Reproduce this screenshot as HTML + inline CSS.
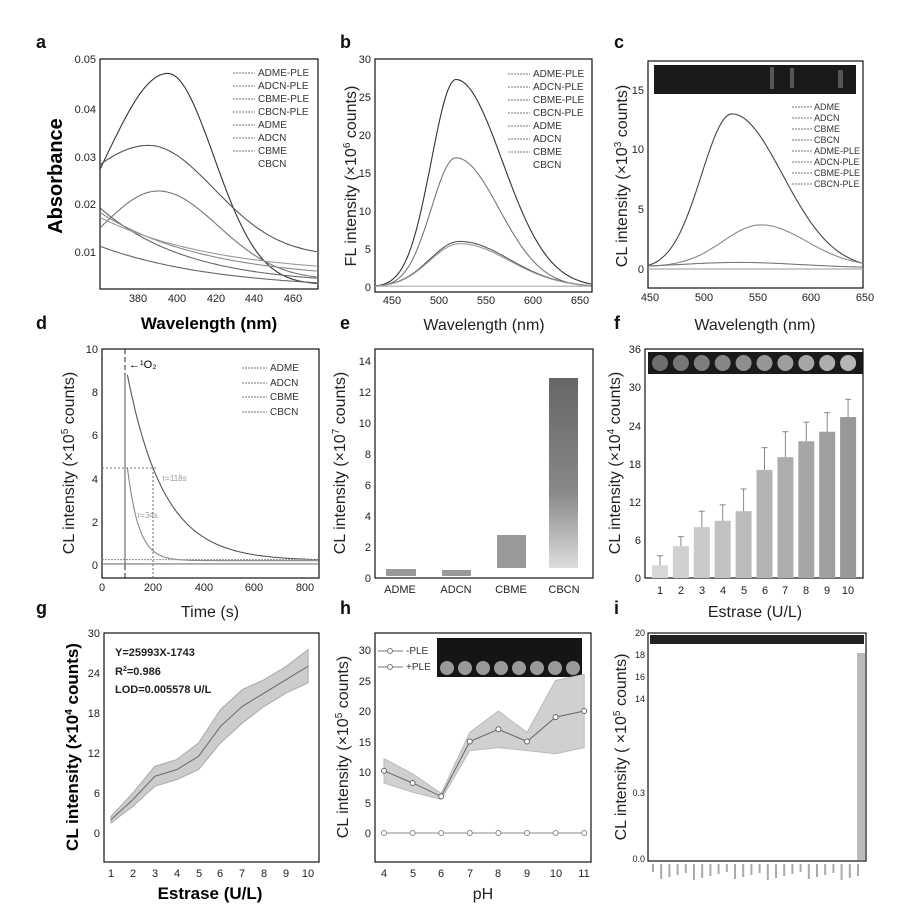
<!DOCTYPE html>
<html><head><meta charset="utf-8"><style>
html,body{margin:0;padding:0;background:#fff}
svg{display:block;font-family:"Liberation Sans",sans-serif}
.t{font-size:11px;fill:#222}
.lg{font-size:10px;fill:#333}
.ax{font-size:16px;fill:#222}
.pl{font-size:18px;font-weight:bold;fill:#111}
.fr{fill:none;stroke:#111;stroke-width:1.2}
.c{fill:none;stroke:#444;stroke-width:1.1}
</style></head><body>
<svg id="s" width="911" height="922" viewBox="0 0 911 922" xmlns="http://www.w3.org/2000/svg">
<defs>
<linearGradient id="gE" x1="0" y1="0" x2="0" y2="1"><stop offset="0" stop-color="#666"/><stop offset="0.6" stop-color="#888"/><stop offset="1" stop-color="#ddd"/></linearGradient>
</defs>
<text class="pl" x="36" y="48">a</text><text class="pl" x="340" y="48">b</text><text class="pl" x="614" y="48">c</text>
<text class="pl" x="36" y="329">d</text><text class="pl" x="340" y="329">e</text><text class="pl" x="614" y="329">f</text>
<text class="pl" x="36" y="614">g</text><text class="pl" x="340" y="614">h</text><text class="pl" x="614" y="614">i</text>

<rect class="fr" x="100" y="59" width="218" height="230"/>
<g class="t" text-anchor="end">
<text x="96" y="63">0.05</text><text x="96" y="113">0.04</text><text x="96" y="161">0.03</text><text x="96" y="208">0.02</text><text x="96" y="256">0.01</text></g>
<g class="t" text-anchor="middle">
<text x="138" y="302">380</text><text x="177" y="302">400</text><text x="216" y="302">420</text><text x="254" y="302">440</text><text x="293" y="302">460</text></g>
<text x="209" y="329" text-anchor="middle" style="font-size:17px;font-weight:bold">Wavelength (nm)</text>
<text transform="translate(62,176) rotate(-90)" text-anchor="middle" style="font-size:20px;font-weight:bold">Absorbance</text>
<g class="lg"><text x="258" y="76">ADME-PLE</text><text x="258" y="89">ADCN-PLE</text><text x="258" y="102">CBME-PLE</text><text x="258" y="115">CBCN-PLE</text><text x="258" y="128">ADME</text><text x="258" y="141">ADCN</text><text x="258" y="154">CBME</text><text x="258" y="167">CBCN</text></g>
<g stroke="#777" stroke-dasharray="2,1"><line x1="233" y1="73" x2="255" y2="73"/><line x1="233" y1="86" x2="255" y2="86"/><line x1="233" y1="99" x2="255" y2="99"/><line x1="233" y1="112" x2="255" y2="112"/><line x1="233" y1="125" x2="255" y2="125"/><line x1="233" y1="138" x2="255" y2="138"/><line x1="233" y1="151" x2="255" y2="151"/></g>
<g id="ga"></g>

<rect class="fr" x="375" y="59" width="217" height="233"/>
<g class="t" text-anchor="end"><text x="371" y="63">30</text><text x="371" y="101">25</text><text x="371" y="139">20</text><text x="371" y="177">15</text><text x="371" y="215">10</text><text x="371" y="253">5</text><text x="371" y="291">0</text></g>
<g class="t" text-anchor="middle"><text x="392" y="304">450</text><text x="439" y="304">500</text><text x="486" y="304">550</text><text x="533" y="304">600</text><text x="580" y="304">650</text></g>
<text class="ax" x="484" y="330" text-anchor="middle">Wavelength (nm)</text>
<text class="ax" transform="translate(356,176) rotate(-90)" text-anchor="middle">FL intensity (×10<tspan dy="-6" font-size="10">6</tspan><tspan dy="6"> counts)</tspan></text>
<g class="lg"><text x="533" y="77">ADME-PLE</text><text x="533" y="90">ADCN-PLE</text><text x="533" y="103">CBME-PLE</text><text x="533" y="116">CBCN-PLE</text><text x="533" y="129">ADME</text><text x="533" y="142">ADCN</text><text x="533" y="155">CBME</text><text x="533" y="168">CBCN</text></g>
<g stroke="#777" stroke-dasharray="2,1"><line x1="508" y1="74" x2="530" y2="74"/><line x1="508" y1="87" x2="530" y2="87"/><line x1="508" y1="100" x2="530" y2="100"/><line x1="508" y1="113" x2="530" y2="113"/><line x1="508" y1="126" x2="530" y2="126"/><line x1="508" y1="139" x2="530" y2="139"/><line x1="508" y1="152" x2="530" y2="152"/></g>
<g id="gb"></g>

<rect class="fr" x="648" y="61" width="215" height="227"/>
<rect x="654" y="65" width="202" height="29" fill="#1a1a1a"/>
<g fill="#555"><rect x="770" y="67" width="4" height="22"/><rect x="790" y="68" width="4" height="20"/><rect x="838" y="70" width="5" height="18"/></g>
<g class="t" text-anchor="end"><text x="644" y="94">15</text><text x="644" y="153">10</text><text x="644" y="213">5</text><text x="644" y="273">0</text></g>
<g class="t" text-anchor="middle"><text x="650" y="301">450</text><text x="704" y="301">500</text><text x="758" y="301">550</text><text x="811" y="301">600</text><text x="865" y="301">650</text></g>
<text class="ax" x="755" y="330" text-anchor="middle">Wavelength (nm)</text>
<text class="ax" transform="translate(627,176) rotate(-90)" text-anchor="middle">CL intensity (×10<tspan dy="-6" font-size="10">3</tspan><tspan dy="6"> counts)</tspan></text>
<g class="lg" style="font-size:9px"><text x="814" y="110">ADME</text><text x="814" y="121">ADCN</text><text x="814" y="132">CBME</text><text x="814" y="143">CBCN</text><text x="814" y="154">ADME-PLE</text><text x="814" y="165">ADCN-PLE</text><text x="814" y="176">CBME-PLE</text><text x="814" y="187">CBCN-PLE</text></g>
<g stroke="#777" stroke-dasharray="2,1"><line x1="792" y1="107" x2="812" y2="107"/><line x1="792" y1="118" x2="812" y2="118"/><line x1="792" y1="129" x2="812" y2="129"/><line x1="792" y1="140" x2="812" y2="140"/><line x1="792" y1="151" x2="812" y2="151"/><line x1="792" y1="162" x2="812" y2="162"/><line x1="792" y1="173" x2="812" y2="173"/><line x1="792" y1="184" x2="812" y2="184"/></g>
<g id="gc"></g>

<rect class="fr" x="102" y="349" width="217" height="229"/>
<g class="t" text-anchor="end"><text x="98" y="353">10</text><text x="98" y="396">8</text><text x="98" y="439">6</text><text x="98" y="483">4</text><text x="98" y="526">2</text><text x="98" y="569">0</text></g>
<g class="t" text-anchor="middle"><text x="102" y="591">0</text><text x="153" y="591">200</text><text x="204" y="591">400</text><text x="254" y="591">600</text><text x="305" y="591">800</text></g>
<text class="ax" x="210" y="617" text-anchor="middle">Time (s)</text>
<text class="ax" transform="translate(74,463) rotate(-90)" text-anchor="middle">CL intensity (×10<tspan dy="-6" font-size="10">5</tspan><tspan dy="6"> counts)</tspan></text>
<g class="lg"><text x="270" y="371">ADME</text><text x="270" y="386">ADCN</text><text x="270" y="400">CBME</text><text x="270" y="415">CBCN</text></g>
<g stroke="#777" stroke-dasharray="2,1"><line x1="242" y1="368" x2="267" y2="368"/><line x1="242" y1="383" x2="267" y2="383"/><line x1="242" y1="397" x2="267" y2="397"/><line x1="242" y1="412" x2="267" y2="412"/></g>
<line x1="125" y1="349" x2="125" y2="578" stroke="#222" stroke-dasharray="5,3"/>
<line x1="153" y1="468" x2="153" y2="578" stroke="#666" stroke-dasharray="2,2"/>
<line x1="102" y1="468" x2="158" y2="468" stroke="#777" stroke-dasharray="2,2"/>
<text x="129" y="368" style="font-size:11px">←¹O₂</text>
<text x="162" y="481" style="font-size:8px;fill:#999">τ=118s</text>
<text x="137" y="518" style="font-size:8px;fill:#999">τ=34s</text>
<g id="gd"></g>

<rect class="fr" x="375" y="349" width="218" height="229"/>
<g class="t" text-anchor="end"><text x="371" y="365">14</text><text x="371" y="396">12</text><text x="371" y="427">10</text><text x="371" y="458">8</text><text x="371" y="489">6</text><text x="371" y="520">4</text><text x="371" y="551">2</text><text x="371" y="582">0</text></g>
<g class="t" text-anchor="middle"><text x="400" y="593">ADME</text><text x="456" y="593">ADCN</text><text x="511" y="593">CBME</text><text x="564" y="593">CBCN</text></g>
<text class="ax" transform="translate(345,463) rotate(-90)" text-anchor="middle">CL intensity (×10<tspan dy="-6" font-size="10">7</tspan><tspan dy="6"> counts)</tspan></text>
<rect x="386" y="569" width="30" height="7" fill="#999"/>
<rect x="442" y="570" width="29" height="6" fill="#999"/>
<rect x="497" y="535" width="29" height="33" fill="#999"/>
<rect x="549" y="378" width="29" height="190" fill="url(#gE)"/>

<rect class="fr" x="645" y="349" width="218" height="229"/>
<rect x="648" y="352" width="215" height="22" fill="#1a1a1a"/>
<g id="gfdots"></g>
<g class="t" text-anchor="end"><text x="641" y="353">36</text><text x="641" y="391">30</text><text x="641" y="430">24</text><text x="641" y="468">18</text><text x="641" y="506">12</text><text x="641" y="544">6</text><text x="641" y="582">0</text></g>
<g class="t" text-anchor="middle"><text x="660" y="594">1</text><text x="681" y="594">2</text><text x="702" y="594">3</text><text x="723" y="594">4</text><text x="744" y="594">5</text><text x="765" y="594">6</text><text x="785" y="594">7</text><text x="806" y="594">8</text><text x="827" y="594">9</text><text x="848" y="594">10</text></g>
<text class="ax" x="755" y="617" text-anchor="middle">Estrase (U/L)</text>
<text class="ax" transform="translate(620,463) rotate(-90)" text-anchor="middle">CL intensity (×10<tspan dy="-6" font-size="10">4</tspan><tspan dy="6"> counts)</tspan></text>
<g id="gf"></g>

<rect class="fr" x="104" y="633" width="215" height="229"/>
<g class="t" text-anchor="end"><text x="100" y="637">30</text><text x="100" y="677">24</text><text x="100" y="717">18</text><text x="100" y="757">12</text><text x="100" y="797">6</text><text x="100" y="837">0</text></g>
<g class="t" text-anchor="middle"><text x="111" y="877">1</text><text x="133" y="877">2</text><text x="155" y="877">3</text><text x="177" y="877">4</text><text x="199" y="877">5</text><text x="220" y="877">6</text><text x="242" y="877">7</text><text x="264" y="877">8</text><text x="286" y="877">9</text><text x="308" y="877">10</text></g>
<text x="210" y="899" text-anchor="middle" style="font-size:17px;font-weight:bold">Estrase (U/L)</text>
<text transform="translate(78,747) rotate(-90)" text-anchor="middle" style="font-size:17px;font-weight:bold">CL intensity (×10<tspan dy="-6" font-size="10">4</tspan><tspan dy="6"> counts)</tspan></text>
<g style="font-size:11px;font-weight:bold;fill:#222"><text x="115" y="656">Y=25993X-1743</text><text x="115" y="675">R<tspan dy="-4" font-size="7">2</tspan><tspan dy="4">=0.986</tspan></text><text x="115" y="693">LOD=0.005578 U/L</text></g>
<g id="gg"></g>

<rect class="fr" x="375" y="633" width="216" height="229"/>
<rect x="437" y="638" width="145" height="39" fill="#151515"/>
<g id="ghdots"></g>
<g class="t" text-anchor="end"><text x="371" y="654">30</text><text x="371" y="685">25</text><text x="371" y="715">20</text><text x="371" y="746">15</text><text x="371" y="776">10</text><text x="371" y="807">5</text><text x="371" y="837">0</text></g>
<g class="t" text-anchor="middle"><text x="384" y="877">4</text><text x="413" y="877">5</text><text x="441" y="877">6</text><text x="470" y="877">7</text><text x="498" y="877">8</text><text x="527" y="877">9</text><text x="556" y="877">10</text><text x="584" y="877">11</text></g>
<text class="ax" x="483" y="899" text-anchor="middle">pH</text>
<text class="ax" transform="translate(348,747) rotate(-90)" text-anchor="middle">CL intensity (×10<tspan dy="-6" font-size="10">5</tspan><tspan dy="6"> counts)</tspan></text>
<g class="lg"><text x="406" y="654">-PLE</text><text x="406" y="670">+PLE</text></g>
<line x1="378" y1="651" x2="403" y2="651" stroke="#777"/><circle cx="390" cy="651" r="2.5" fill="#fff" stroke="#777"/>
<line x1="378" y1="667" x2="403" y2="667" stroke="#777"/><circle cx="390" cy="667" r="2.5" fill="#fff" stroke="#777"/>
<g id="gh"></g>

<rect class="fr" x="648" y="633" width="218" height="228"/>
<rect x="650" y="635" width="214" height="9" fill="#222"/>
<rect x="857" y="653" width="8" height="207" fill="#bbb"/>
<g class="t" text-anchor="end" style="font-size:9px"><text x="645" y="636">20</text><text x="645" y="658">18</text><text x="645" y="680">16</text><text x="645" y="702">14</text><text x="645" y="796">0.3</text><text x="645" y="862">0.0</text></g>
<text class="ax" transform="translate(626,747) rotate(-90)" text-anchor="middle">CL intensity ( ×10<tspan dy="-6" font-size="10">5</tspan><tspan dy="6"> counts)</tspan></text>
<g id="gix"></g>
</svg>
<script>
var NS="http://www.w3.org/2000/svg";
function el(g,tag,a){var e=document.createElementNS(NS,tag);for(var k in a)e.setAttribute(k,a[k]);document.getElementById(g).appendChild(e);return e;}
function path(g,f,x0,x1,X,Y,st){var d="";for(var x=x0;x<=x1+1e-9;x+=(x1-x0)/120){d+=(d?"L":"M")+X(x).toFixed(1)+","+Y(f(x)).toFixed(1);}el(g,"path",Object.assign({d:d,fill:"none",stroke:"#444","stroke-width":1.1},st||{}));}
function ag(c,l,r){return function(x){var w=x<c?l:r;return Math.exp(-Math.pow((x-c)/w,2));};}
var Xa=function(n){return 100+(n-360)*1.935},Ya=function(v){return 59+(0.05-v)*4800};
var g1=ag(395,45,33.7),g2=ag(385,57,48),g3=ag(390,41,44);
path("ga",function(n){return .003+.044*g1(n)},360,472,Xa,Ya,{stroke:"#333"});
path("ga",function(n){return .009+.023*g2(n)},360,472,Xa,Ya,{stroke:"#555"});
path("ga",function(n){return .004+.0185*g3(n)},360,472,Xa,Ya,{stroke:"#777"});
path("ga",function(n){return .003+.016*Math.exp(-(n-360)/45)},360,472,Xa,Ya,{stroke:"#666"});
path("ga",function(n){return .004+.014*Math.exp(-(n-360)/55)},360,472,Xa,Ya,{stroke:"#888"});
path("ga",function(n){return .005+.012*Math.exp(-(n-360)/60)},360,472,Xa,Ya,{stroke:"#999"});
path("ga",function(n){return .002+.009*Math.exp(-(n-360)/60)},360,472,Xa,Ya,{stroke:"#666"});
var Xb=function(n){return 375+(n-432)*0.94},Yb=function(v){return 287-v*7.6};
var b1=ag(518,37,70),b2=ag(518,37,65),b3=ag(522,45,75);
path("gb",function(n){return 27.3*b1(n)},432,662,Xb,Yb,{stroke:"#333"});
path("gb",function(n){return 17*b2(n)},432,662,Xb,Yb,{stroke:"#777"});
path("gb",function(n){return 6*b3(n)},432,662,Xb,Yb,{stroke:"#555"});
path("gb",function(n){return 5.7*b3(n)},432,662,Xb,Yb,{stroke:"#999"});
path("gb",function(n){return 0.1},432,662,Xb,Yb,{stroke:"#aaa"});
var Xc=function(n){return 648+(n-445)*1.075},Yc=function(v){return 269-v*11.93};
var c1=ag(523,40,67),c2=ag(550,50,60),c3=ag(530,80,80);
path("gc",function(n){return 13*c1(n)},445,645,Xc,Yc,{stroke:"#444"});
path("gc",function(n){return 0.2+3.5*c2(n)},445,645,Xc,Yc,{stroke:"#888"});
path("gc",function(n){return 0.1+0.45*c3(n)},445,645,Xc,Yc,{stroke:"#777"});
path("gc",function(n){return 0},445,645,Xc,Yc,{stroke:"#999"});
var Xd=function(t){return 102+t*0.254},Yd=function(v){return 565-v*21.6};
path("gd",function(t){return 0.2+8.6*Math.exp(-(t-100)/145)},100,850,Xd,Yd,{stroke:"#555"});
path("gd",function(t){return 0.2+4.3*Math.exp(-(t-100)/45)},100,850,Xd,Yd,{stroke:"#888"});
path("gd",function(t){return 0.25},0,850,Xd,Yd,{stroke:"#999","stroke-dasharray":"2,1"});
path("gd",function(t){return 0.05},0,850,Xd,Yd,{stroke:"#777"});
el("gd","line",{x1:125,y1:375,x2:125,y2:565,stroke:"#555"});
var hf=[2,5,8,9,10.5,17,19,21.5,23,25.3],ef=[1.5,1.5,2.5,2.5,3.5,3.5,4,3,3,2.8];
for(var i=0;i<10;i++){var cx=660+i*20.9,y=578-hf[i]*6.36,sh=215-i*7;
el("gf","rect",{x:cx-8,y:y,width:16,height:578-y,fill:"rgb("+sh+","+sh+","+sh+")"});
el("gf","line",{x1:cx,y1:y,x2:cx,y2:y-ef[i]*6.36,stroke:"#888"});
el("gf","line",{x1:cx-3,y1:y-ef[i]*6.36,x2:cx+3,y2:y-ef[i]*6.36,stroke:"#888"});
el("gfdots","circle",{cx:cx,cy:363,r:8,fill:"rgb("+(110+i*8)+","+(110+i*8)+","+(110+i*8)+")"});}
var Xg=function(x){return 111+(x-1)*21.9},Yg=function(v){return 833-v*6.67};
var gv=[2,5,8.5,9.5,11.5,16,19,21,23,25],ge=[.5,1,1.5,1.5,2,2.5,2.5,2,2,2.5];
var up="";for(var i=0;i<10;i++){up+=(i?"L":"M")+Xg(i+1)+","+Yg(gv[i]+ge[i]);}
for(var i=9;i>=0;i--){up+="L"+Xg(i+1)+","+Yg(gv[i]-ge[i]);}
el("gg","path",{d:up+"Z",fill:"#ccc",stroke:"#aaa"});
var ln="";for(var i=0;i<10;i++)ln+=(i?"L":"M")+Xg(i+1)+","+Yg(gv[i]);el("gg","path",{d:ln,fill:"none",stroke:"#666"});
var Xh=function(x){return 384+(x-4)*28.6},Yh=function(v){return 833-v*6.1};
var hv=[10.2,8.2,6,15,17,15,19,20],he=[2,1.5,.5,1.5,3,1.5,6,6];
var b="";for(var i=0;i<8;i++)b+=(i?"L":"M")+Xh(i+4)+","+Yh(hv[i]+he[i]);
for(var i=7;i>=0;i--)b+="L"+Xh(i+4)+","+Yh(hv[i]-he[i]);
el("gh","path",{d:b+"Z",fill:"#d0d0d0",stroke:"#bbb"});
var l1="",l2="";for(var i=0;i<8;i++){l1+=(i?"L":"M")+Xh(i+4)+","+Yh(hv[i]);l2+=(i?"L":"M")+Xh(i+4)+","+Yh(0);}
el("gh","path",{d:l1,fill:"none",stroke:"#666"});el("gh","path",{d:l2,fill:"none",stroke:"#888"});
for(var i=0;i<8;i++){el("gh","circle",{cx:Xh(i+4),cy:Yh(hv[i]),r:2.5,fill:"#fff",stroke:"#666"});el("gh","circle",{cx:Xh(i+4),cy:Yh(0),r:2.5,fill:"#fff",stroke:"#888"});
el("ghdots","circle",{cx:447+i*18,cy:668,r:7,fill:"#999"});}
for(var i=0;i<26;i++){el("gix","rect",{x:652+i*8.2,y:864,width:2,height:8+((i*7)%9),fill:"#aaa"});}
</script>
</body></html>
